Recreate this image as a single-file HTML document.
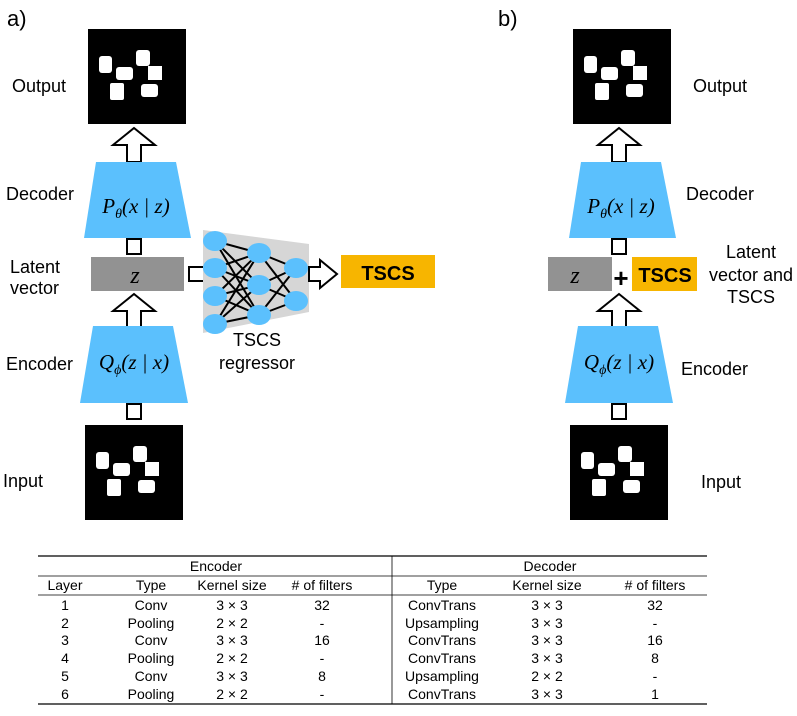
<!DOCTYPE html>
<html><head><style>
body{margin:0;background:#fff;}
svg text{font-family:"Liberation Sans",sans-serif;}
svg text.m{font-family:"Liberation Serif",serif;font-style:italic;}
</style></head><body>
<svg width="797" height="711" viewBox="0 0 797 711" xmlns="http://www.w3.org/2000/svg">
<defs>
<g id="img">
<rect x="0" y="0" width="98" height="95" fill="#000"/>
<g fill="#fff">
<rect x="11" y="27" width="13" height="17" rx="3"/>
<rect x="28" y="38" width="17" height="13" rx="3"/>
<rect x="48" y="21" width="14" height="16" rx="3"/>
<rect x="60" y="37" width="14" height="14"/>
<rect x="22" y="54" width="14" height="17" rx="2"/>
<rect x="53" y="55" width="17" height="13" rx="3"/>
</g>
</g>
<g id="up"><polygon points="-7,0 -7,-17 -21,-17 0,-34 21,-17 7,-17 7,0" fill="#fff" stroke="#000" stroke-width="2"/></g>
<g id="stem"><rect x="-7" y="0" width="14" height="15" fill="#fff" stroke="#000" stroke-width="2"/></g>
</defs>

<text x="7" y="26" font-size="22">a)</text>
<text x="498" y="26" font-size="22">b)</text>

<!-- Panel a -->
<use href="#img" x="88" y="29"/>
<use href="#up" x="134" y="162"/>
<polygon points="96,162 176,162 191,238 84,238" fill="#5bc0fd"/>
<text class="m" x="136" y="213" font-size="21" text-anchor="middle">P<tspan font-size="14" dy="5">θ</tspan><tspan dy="-5">(x | z)</tspan></text>
<use href="#stem" x="134" y="239"/>
<rect x="91" y="257" width="93" height="34" fill="#929292"/>
<text class="m" x="135" y="283" font-size="24" text-anchor="middle">z</text>
<use href="#up" x="134" y="328"/>
<polygon points="93,326 173,326 188,403 80,403" fill="#5bc0fd"/>
<text class="m" x="134" y="369" font-size="21" text-anchor="middle">Q<tspan font-size="14" dy="5">ϕ</tspan><tspan dy="-5">(z | x)</tspan></text>
<use href="#stem" x="134" y="404"/>
<use href="#img" x="85" y="425"/>
<text x="12" y="92" font-size="18">Output</text>
<text x="6" y="200" font-size="18">Decoder</text>
<text x="10" y="273" font-size="18">Latent</text>
<text x="10" y="294" font-size="18">vector</text>
<text x="6" y="370" font-size="18">Encoder</text>
<text x="3" y="487" font-size="18">Input</text>

<!-- NN -->
<rect x="189" y="267" width="16" height="14" fill="#fff" stroke="#000" stroke-width="2"/>
<polygon points="203,230 309,244 309,312 203,333" fill="#d6d6d6"/>
<g stroke="#000" stroke-width="2">
<line x1="215" y1="241" x2="259" y2="253"/><line x1="215" y1="241" x2="259" y2="285"/><line x1="215" y1="241" x2="259" y2="315"/>
<line x1="215" y1="268" x2="259" y2="253"/><line x1="215" y1="268" x2="259" y2="285"/><line x1="215" y1="268" x2="259" y2="315"/>
<line x1="215" y1="296" x2="259" y2="253"/><line x1="215" y1="296" x2="259" y2="285"/><line x1="215" y1="296" x2="259" y2="315"/>
<line x1="215" y1="324" x2="259" y2="253"/><line x1="215" y1="324" x2="259" y2="285"/><line x1="215" y1="324" x2="259" y2="315"/>
<line x1="259" y1="253" x2="296" y2="268"/><line x1="259" y1="253" x2="296" y2="301"/>
<line x1="259" y1="285" x2="296" y2="268"/><line x1="259" y1="285" x2="296" y2="301"/>
<line x1="259" y1="315" x2="296" y2="268"/><line x1="259" y1="315" x2="296" y2="301"/>
</g>
<g fill="#5bc0fd">
<ellipse cx="215" cy="241" rx="12" ry="10"/><ellipse cx="215" cy="268" rx="12" ry="10"/><ellipse cx="215" cy="296" rx="12" ry="10"/><ellipse cx="215" cy="324" rx="12" ry="10"/>
<ellipse cx="259" cy="253" rx="12" ry="10"/><ellipse cx="259" cy="285" rx="12" ry="10"/><ellipse cx="259" cy="315" rx="12" ry="10"/>
<ellipse cx="296" cy="268" rx="12" ry="10"/><ellipse cx="296" cy="301" rx="12" ry="10"/>
</g>
<polygon points="309,267 320,267 320,260 337,274 320,288 320,281 309,281" fill="#fff" stroke="#000" stroke-width="2"/>
<rect x="341" y="255" width="94" height="33" fill="#f7b500"/>
<text x="388" y="280" font-size="20" font-weight="bold" text-anchor="middle">TSCS</text>
<text x="257" y="346" font-size="18" text-anchor="middle">TSCS</text>
<text x="257" y="369" font-size="18" text-anchor="middle">regressor</text>

<!-- Panel b -->
<use href="#img" x="573" y="29"/>
<use href="#up" x="619" y="162"/>
<polygon points="581,162 661,162 676,238 569,238" fill="#5bc0fd"/>
<text class="m" x="621" y="213" font-size="21" text-anchor="middle">P<tspan font-size="14" dy="5">θ</tspan><tspan dy="-5">(x | z)</tspan></text>
<use href="#stem" x="619" y="239"/>
<rect x="548" y="257" width="64" height="34" fill="#929292"/>
<text class="m" x="575" y="283" font-size="24" text-anchor="middle">z</text>
<use href="#up" x="619" y="328"/>
<text x="621" y="287" font-size="26" font-weight="bold" text-anchor="middle">+</text>
<rect x="632" y="257" width="65" height="34" fill="#f7b500"/>
<text x="665" y="282" font-size="20" font-weight="bold" text-anchor="middle">TSCS</text>
<polygon points="578,326 658,326 673,403 565,403" fill="#5bc0fd"/>
<text class="m" x="619" y="369" font-size="21" text-anchor="middle">Q<tspan font-size="14" dy="5">ϕ</tspan><tspan dy="-5">(z | x)</tspan></text>
<use href="#stem" x="619" y="404"/>
<use href="#img" x="570" y="425"/>
<text x="693" y="92" font-size="18">Output</text>
<text x="686" y="200" font-size="18">Decoder</text>
<text x="751" y="258" font-size="18" text-anchor="middle">Latent</text>
<text x="751" y="281" font-size="18" text-anchor="middle">vector and</text>
<text x="751" y="303" font-size="18" text-anchor="middle">TSCS</text>
<text x="681" y="375" font-size="18">Encoder</text>
<text x="701" y="488" font-size="18">Input</text>

<!-- Table -->
<g stroke="#000">
<line x1="38" y1="556" x2="707" y2="556" stroke-width="1.2"/>
<line x1="38" y1="576" x2="707" y2="576" stroke-width="0.8"/>
<line x1="38" y1="595" x2="707" y2="595" stroke-width="0.8"/>
<line x1="38" y1="704" x2="707" y2="704" stroke-width="1.2"/>
<line x1="392" y1="556" x2="392" y2="704" stroke-width="0.8"/>
</g>
<g font-size="14" text-anchor="middle">
<text x="216" y="571">Encoder</text><text x="550" y="571">Decoder</text>
<text x="65" y="590">Layer</text><text x="151" y="590">Type</text><text x="232" y="590">Kernel size</text><text x="322" y="590">#  of filters</text>
<text x="442" y="590">Type</text><text x="547" y="590">Kernel size</text><text x="655" y="590">#  of filters</text>
<text x="65" y="610">1</text><text x="151" y="610">Conv</text><text x="232" y="610">3 × 3</text><text x="322" y="610">32</text><text x="442" y="610">ConvTrans</text><text x="547" y="610">3 × 3</text><text x="655" y="610">32</text>
<text x="65" y="628">2</text><text x="151" y="628">Pooling</text><text x="232" y="628">2 × 2</text><text x="322" y="628">-</text><text x="442" y="628">Upsampling</text><text x="547" y="628">3 × 3</text><text x="655" y="628">-</text>
<text x="65" y="645">3</text><text x="151" y="645">Conv</text><text x="232" y="645">3 × 3</text><text x="322" y="645">16</text><text x="442" y="645">ConvTrans</text><text x="547" y="645">3 × 3</text><text x="655" y="645">16</text>
<text x="65" y="663">4</text><text x="151" y="663">Pooling</text><text x="232" y="663">2 × 2</text><text x="322" y="663">-</text><text x="442" y="663">ConvTrans</text><text x="547" y="663">3 × 3</text><text x="655" y="663">8</text>
<text x="65" y="681">5</text><text x="151" y="681">Conv</text><text x="232" y="681">3 × 3</text><text x="322" y="681">8</text><text x="442" y="681">Upsampling</text><text x="547" y="681">2 × 2</text><text x="655" y="681">-</text>
<text x="65" y="699">6</text><text x="151" y="699">Pooling</text><text x="232" y="699">2 × 2</text><text x="322" y="699">-</text><text x="442" y="699">ConvTrans</text><text x="547" y="699">3 × 3</text><text x="655" y="699">1</text>
</g>
</svg>
</body></html>
